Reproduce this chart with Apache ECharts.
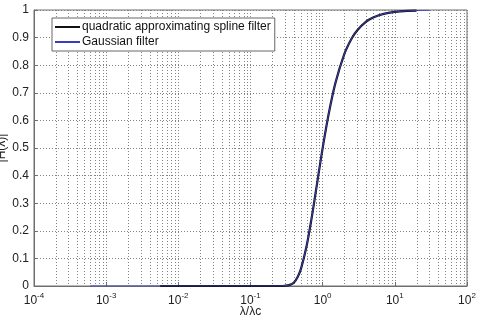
<!DOCTYPE html>
<html>
<head>
<meta charset="utf-8">
<script src="https://cdn.jsdelivr.net/npm/echarts@6/dist/echarts.min.js"></script>
<style>
html, body { margin: 0; padding: 0; background: #fff; }
#chart { width: 481px; height: 318px; }
</style>
</head>
<body>
<div id="chart"></div>
<script>
// values, x is λ/λc
const splineX = [0.0056, 0.01, 0.03, 0.1, 0.2, 0.25, 0.3, 0.35, 0.4, 0.45, 0.5, 0.6, 0.7, 0.8, 0.9, 1.0, 1.2, 1.5, 2, 2.5, 3, 4, 5, 7, 10, 15, 20]
const splineY = [0, 0, 0, 0, 0, 0, 0.001, 0.004, 0.013, 0.033, 0.062, 0.146, 0.243, 0.339, 0.425, 0.5, 0.618, 0.735, 0.841, 0.895, 0.926, 0.958, 0.973, 0.986, 0.993, 0.997, 0.998]
const gaussX = [0.0006, 0.001, 0.01, 0.1, 0.2, 0.25, 0.3, 0.35, 0.4, 0.45, 0.5, 0.6, 0.7, 0.8, 0.9, 1.0, 1.2, 1.5, 2, 2.5, 3, 4, 5, 7, 10, 15, 20, 30]
const gaussY = [0, 0, 0, 0, 0, 0, 0.001, 0.004, 0.013, 0.033, 0.062, 0.146, 0.243, 0.339, 0.425, 0.5, 0.618, 0.735, 0.841, 0.895, 0.926, 0.958, 0.973, 0.986, 0.993, 0.997, 0.998, 0.999]
const decades = [-4, -3, -2, -1, 0, 1]
const seriesNames = ['quadratic approximating spline filter', 'Gaussian filter']

const gridColor = '#848484'
const zip = (xs, ys) => xs.map((x, i) => [x, ys[i]])

// minor grid lines at 2..9 of every decade
let minorLines = []
decades.forEach(d => {
    for (let k = 2; k <= 9; k++) {
        minorLines.push([k * Math.pow(10, d)])
    }
})

const chart = echarts.init(document.getElementById('chart'))
chart.setOption({
    animation: false,
    backgroundColor: '#fff',
    textStyle: { fontFamily: 'Liberation Sans, Arial, sans-serif' },
    grid: {
        left: 34, right: 14, top: 10, bottom: 32,
        outerBoundsMode: 'none',
        containLabel: false,
        show: true, borderColor: '#6e6e6e', borderWidth: 1
    },
    legend: {
        orient: 'vertical',
        left: 52, top: 18,
        padding: [3, 4, 3, 2],
        itemGap: 3,
        itemWidth: 25,
        itemHeight: 12,
        backgroundColor: '#fff',
        borderColor: '#666',
        borderWidth: 1,
        borderRadius: 0,
        itemStyle: { opacity: 0 },
        textStyle: { fontSize: 12, color: '#111', padding: [0, 0, 0, -3] },
        data: seriesNames
    },
    xAxis: {
        type: 'log',
        logBase: 10,
        min: 0.0001,
        max: 100,
        interval: 1,
        name: 'λ/λc',
        nameLocation: 'middle',
        nameMoveOverlap: false,
        nameGap: 20,
        nameTextStyle: { fontSize: 12, color: '#222' },
        axisLine: { show: true, lineStyle: { color: '#6e6e6e' } },
        axisTick: { show: true, inside: true, length: 4, lineStyle: { color: '#6e6e6e' } },
        splitLine: { show: true, lineStyle: { color: gridColor, type: [1, 2], width: 1 } },
        axisLabel: {
            margin: 6,
            formatter: v => '{b|10}{s|' + Math.round(Math.log10(v)) + '}',
            rich: {
                b: { fontSize: 12, color: '#222', fontFamily: 'Liberation Sans' },
                s: { fontSize: 8, color: '#222', fontFamily: 'Liberation Sans', verticalAlign: 'top', padding: [0, 0, 9, 0] }
            }
        }
    },
    yAxis: {
        type: 'value',
        min: 0,
        max: 1,
        interval: 0.1,
        name: '|H(λ)|',
        nameLocation: 'middle',
        nameMoveOverlap: false,
        nameGap: 26,
        nameRotate: 90,
        nameTextStyle: { fontSize: 12, color: '#222' },
        axisLine: { show: true, lineStyle: { color: '#6e6e6e' } },
        axisTick: { show: true, inside: true, length: 4, lineStyle: { color: '#6e6e6e' } },
        splitLine: { show: true, lineStyle: { color: gridColor, type: [1, 2], width: 1 } },
        axisLabel: { fontSize: 12, color: '#222', margin: 5 }
    },
    series: [
        {
            name: 'minor grid',
            type: 'custom',
            silent: true,
            z: 1,
            data: minorLines,
            encode: { x: 0 },
            renderItem(params, api) {
                const top = api.coord([api.value(0), 1])
                const bottom = api.coord([api.value(0), 0])
                return {
                    type: 'line',
                    shape: { x1: Math.round(top[0]) + 0.5, y1: top[1], x2: Math.round(bottom[0]) + 0.5, y2: bottom[1] },
                    style: { stroke: gridColor, lineWidth: 1, lineDash: [1, 2] }
                }
            }
        },
        {
            name: seriesNames[0],
            type: 'line',
            symbol: 'none',
            smooth: 0.3,
            z: 3,
            color: '#111',
            lineStyle: { width: 2.2, color: '#111' },
            data: zip(splineX, splineY)
        },
        {
            name: seriesNames[1],
            type: 'line',
            symbol: 'none',
            smooth: 0.3,
            z: 4,
            color: '#3b3bc0',
            lineStyle: { width: 1, color: '#3b3bc0' },
            data: zip(gaussX, gaussY)
        }
    ]
})
</script>
</body>
</html>
